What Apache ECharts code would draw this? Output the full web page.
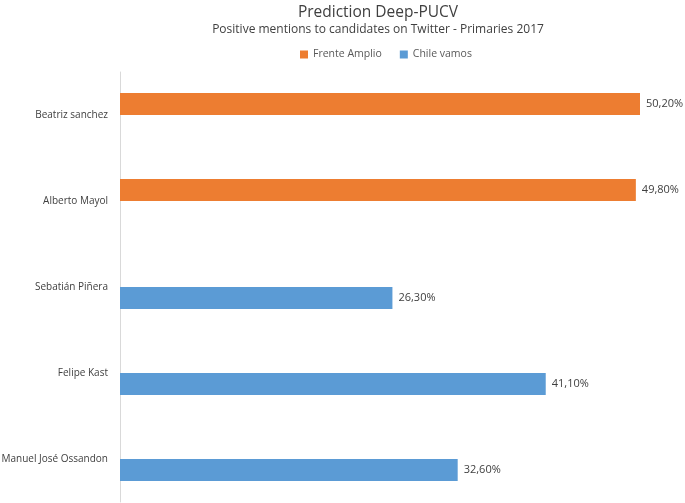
<!DOCTYPE html>
<html lang="en">
<head>
    <meta charset="UTF-8">
    <script src="https://cdn.jsdelivr.net/npm/echarts@6/dist/echarts.min.js"></script>
    <title>Prediction Deep-PUCV</title>
    <style>
        html, body { margin: 0; padding: 0; background: #fff; }
        #main { width: 685px; height: 503px; }
    </style>
</head>
<body>
<div id="main"></div>
<script>
    // candidates, top to bottom
    var candidates = ['Beatriz sanchez', 'Alberto Mayol', 'Sebatián Piñera', 'Felipe Kast', 'Manuel José Ossandon'];
    var frenteAmplio = [50.2, 49.8, null, null, null];
    var chileVamos = [null, null, 26.3, 41.1, 32.6];

    var myChart = echarts.init(document.getElementById('main'));

    function pctLabel(p) {
        return p.value.toFixed(2).replace('.', ',') + '%';
    }

    var labelStyle = {
        show: true,
        position: 'right',
        distance: 6,
        color: '#404040',
        fontSize: 11,
        fontFamily: 'Open Sans',
        formatter: pctLabel
    };

    var option = {
        animation: false,
        title: {
            text: 'Prediction Deep-PUCV',
            subtext: 'Positive mentions to candidates on Twitter - Primaries 2017',
            left: 373,
            textAlign: 'center',
            top: 0,
            itemGap: 3,
            textStyle: { fontFamily: 'Open Sans', fontSize: 15.5, fontWeight: 'normal', color: '#404040' },
            subtextStyle: { fontFamily: 'Open Sans', fontSize: 12, color: '#404040' }
        },
        legend: {
            top: 44,
            left: 295,
            itemWidth: 8,
            itemHeight: 8,
            itemGap: 18,
            icon: 'rect',
            textStyle: { fontFamily: 'Open Sans', fontSize: 10.5, color: '#595959' },
            data: ['Frente Amplio', 'Chile vamos']
        },
        grid: { left: 120, right: 16, top: 72, bottom: 1, outerBoundsMode: 'none' },
        xAxis: {
            type: 'value',
            min: 0,
            max: 53,
            axisLine: { show: false },
            axisTick: { show: false },
            axisLabel: { show: false },
            splitLine: { show: false }
        },
        yAxis: {
            type: 'category',
            inverse: true,
            data: candidates,
            axisLine: { show: true, lineStyle: { color: '#d9d9d9' } },
            axisTick: { show: false },
            axisLabel: { color: '#404040', fontSize: 10, fontFamily: 'Open Sans', margin: 12 }
        },
        series: [
            {
                name: 'Frente Amplio',
                type: 'bar',
                data: frenteAmplio,
                barGap: '0%',
                barCategoryGap: '49%',
                itemStyle: { color: '#ed7d31' },
                label: labelStyle
            },
            {
                name: 'Chile vamos',
                type: 'bar',
                data: chileVamos,
                itemStyle: { color: '#5b9bd5' },
                label: labelStyle
            }
        ]
    };

    myChart.setOption(option);
</script>
</body>
</html>
